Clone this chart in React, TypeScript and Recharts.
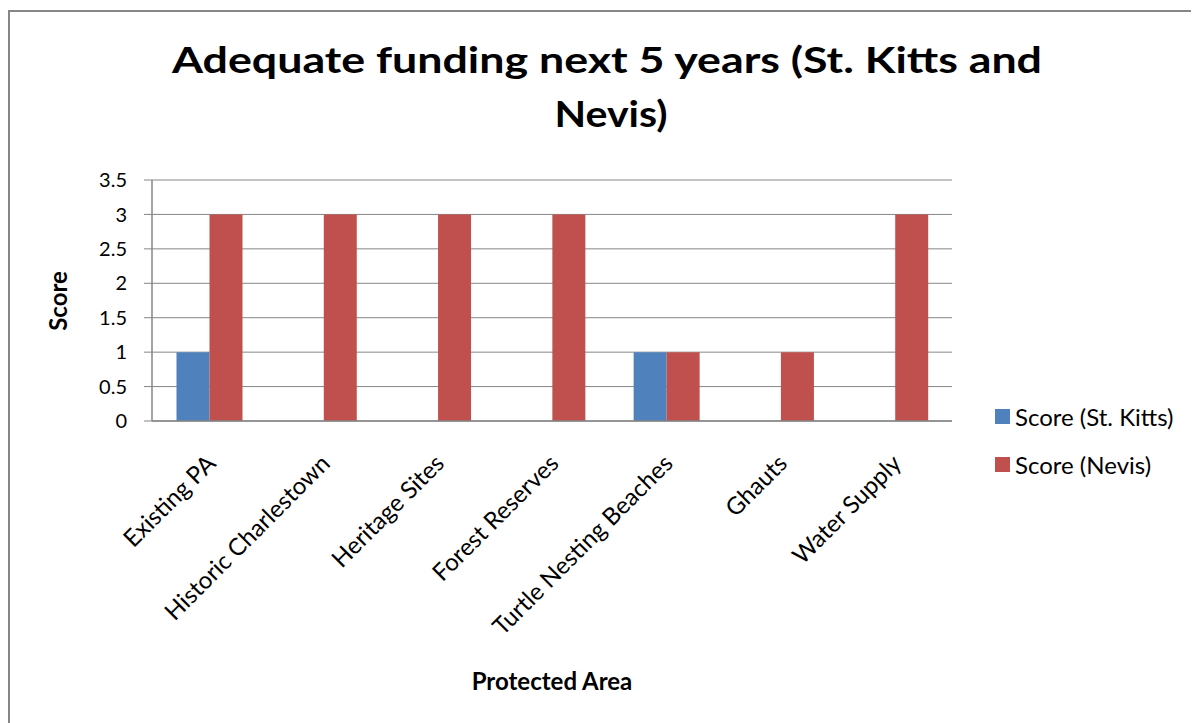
import React from 'react';
import { BarChart, Bar, XAxis, YAxis, CartesianGrid } from 'recharts';

const categories = [
  'Existing PA',
  'Historic Charlestown',
  'Heritage Sites',
  'Forest Reserves',
  'Turtle Nesting Beaches',
  'Ghauts',
  'Water Supply',
];
const stKitts = [1, 0, 0, 0, 1, 0, 0];
const nevis = [3, 3, 3, 3, 1, 1, 3];
const yTicks = [0, 0.5, 1, 1.5, 2, 2.5, 3, 3.5];
const seriesNames = ['Score (St. Kitts)', 'Score (Nevis)'];
const seriesColors = ['#4F81BD', '#C0504D'];
const titleLines = ['Adequate funding next 5 years (St. Kitts and', 'Nevis)'];
const xTitle = 'Protected Area';
const yTitle = 'Score';

const data = categories.map((name, i) => ({ name, kitts: stKitts[i], nevis: nevis[i] }));

const FONT = 'Lato, "Open Sans", sans-serif';
const GRAY = '#868686';

const XTick = (props: any) => {
  const { x, y, payload } = props;
  return (
    <g transform={`translate(${x + 8},${y + 36})`}>
      <text x={0} y={0} textAnchor="end" transform="rotate(-45)" fontSize={24} fill="#000" fontFamily={FONT}>
        {payload.value}
      </text>
    </g>
  );
};

export default function App() {
  return (
    <div style={{ position: 'relative', width: 1191, height: 715, overflow: 'hidden', fontFamily: FONT, background: '#fff' }}>
      <div
        style={{
          position: 'absolute',
          left: 0,
          top: 2,
          width: 3000,
          height: 3000,
          borderLeft: `2px solid ${GRAY}`,
          borderTop: `2px solid ${GRAY}`,
        }}
      />
      <svg width={1191} height={715} style={{ position: 'absolute', left: 0, top: 0 }}>
        <text x={599} y={65} textAnchor="middle" fontSize={37} fontWeight="bold" fontFamily={FONT} textLength={870} lengthAdjust="spacingAndGlyphs">
          {titleLines[0]}
        </text>
        <text x={603} y={119} textAnchor="middle" fontSize={37} fontWeight="bold" fontFamily={FONT} textLength={113} lengthAdjust="spacingAndGlyphs">
          {titleLines[1]}
        </text>
        <text x={544} y={682} textAnchor="middle" fontSize={24} fontWeight="bold" fontFamily={FONT}>
          {xTitle}
        </text>
        <text x={0} y={0} textAnchor="middle" fontSize={24} fontWeight="bold" fontFamily={FONT} transform="translate(59,293) rotate(-90)">
          {yTitle}
        </text>
      </svg>
      <div style={{ position: 'absolute', left: 0, top: 0 }}>
        <BarChart
          width={1191}
          height={715}
          data={data}
          margin={{ top: 172, right: 247, bottom: 0, left: 84 }}
          barCategoryGap="21.43%"
          barGap={0}
        >
          <CartesianGrid vertical={false} stroke={GRAY} strokeWidth={1} />
          <XAxis
            dataKey="name"
            interval={0}
            height={302}
            tickLine={false}
            axisLine={{ stroke: GRAY, strokeWidth: 1.5 }}
            tick={<XTick />}
          />
          <YAxis
            width={60}
            domain={[0, 3.5]}
            ticks={yTicks}
            interval={0}
            tickSize={8}
            tickMargin={17}
            axisLine={{ stroke: GRAY, strokeWidth: 1.5 }}
            tickLine={{ stroke: GRAY }}
            tick={{ fill: '#000', fontSize: 20, fontFamily: FONT }}
          />
          <Bar dataKey="kitts" fill={seriesColors[0]} isAnimationActive={false} />
          <Bar dataKey="nevis" fill={seriesColors[1]} isAnimationActive={false} />
        </BarChart>
      </div>
      {seriesNames.map((n, i) => (
        <div
          key={n}
          style={{
            position: 'absolute',
            left: 987,
            top: 394 + i * 48,
            height: 28,
            display: 'flex',
            alignItems: 'center',
            fontSize: 24,
            color: '#000',
            whiteSpace: 'nowrap',
          }}
        >
          <span style={{ display: 'inline-block', width: 15, height: 15, background: seriesColors[i], marginRight: 5 }} />
          <span>{n}</span>
        </div>
      ))}
    </div>
  );
}
